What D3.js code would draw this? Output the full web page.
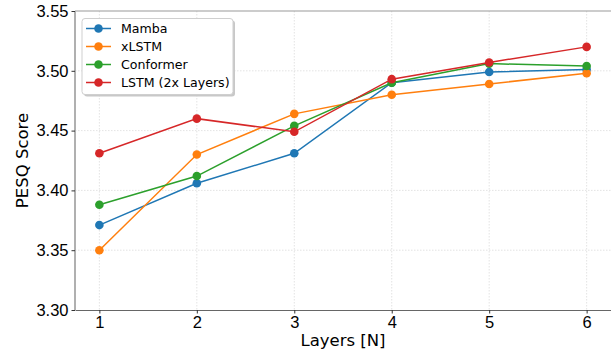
<!DOCTYPE html>
<html>
<head>
<meta charset="utf-8">
<script src="https://cdn.jsdelivr.net/npm/d3@7"></script>
<style>
  body { margin: 0; background: #fff; }
  svg { font-family: "DejaVu Sans", sans-serif; display: block; }
</style>
</head>
<body>
<div id="main"></div>
<script>
// Data
const layers = [1, 2, 3, 4, 5, 6];
const mamba = [3.371, 3.406, 3.431, 3.490, 3.499, 3.501];
const xlstm = [3.350, 3.430, 3.464, 3.480, 3.489, 3.498];
const conformer = [3.388, 3.412, 3.454, 3.490, 3.506, 3.504];
const lstm2x = [3.431, 3.460, 3.449, 3.493, 3.507, 3.520];
const seriesNames = ["Mamba", "xLSTM", "Conformer", "LSTM (2x Layers)"];
const seriesColors = ["#1f77b4", "#ff7f0e", "#2ca02c", "#d62728"];
const yTicks = [3.30, 3.35, 3.40, 3.45, 3.50, 3.55];

const width = 611, height = 349;
const plot = { left: 75, top: 11, right: 611, bottom: 310 };
const fontSize = "16.5px";

const svg = d3.select("div#main").append("svg")
  .attr("width", width)
  .attr("height", height);

// x: 1 at ~99, 6 at ~587
const x = d3.scaleLinear().domain([0.75, 6.25]).range([plot.left, plot.right]);
const y = d3.scaleLinear().domain([3.30, 3.55]).range([plot.bottom, plot.top]);

// grid
svg.append("g").selectAll("line").data(layers)
  .enter().append("line")
  .attr("x1", d => x(d)).attr("x2", d => x(d))
  .attr("y1", plot.top).attr("y2", plot.bottom)
  .attr("stroke", "#dcdcdc").attr("stroke-width", 0.8)
  .attr("stroke-dasharray", "1.5,1.5");
svg.append("g").selectAll("line").data(yTicks.slice(1, -1))
  .enter().append("line")
  .attr("x1", plot.left).attr("x2", plot.right)
  .attr("y1", d => y(d)).attr("y2", d => y(d))
  .attr("stroke", "#dcdcdc").attr("stroke-width", 0.8)
  .attr("stroke-dasharray", "1.5,1.5");

// spines
svg.append("line")
  .attr("x1", plot.left).attr("x2", plot.right)
  .attr("y1", plot.top).attr("y2", plot.top)
  .attr("stroke", "#999").attr("stroke-width", 1.2);
svg.append("line")
  .attr("x1", plot.left).attr("x2", plot.left)
  .attr("y1", plot.top).attr("y2", plot.bottom)
  .attr("stroke", "#b0b0b0").attr("stroke-width", 2);

// axes
const xAxis = svg.append("g")
  .attr("transform", "translate(0," + plot.bottom + ")")
  .call(d3.axisBottom(x).tickValues(layers).tickFormat(d3.format("d"))
    .tickSizeInner(3.5).tickSizeOuter(0).tickPadding(3));
xAxis.select(".domain").attr("stroke", "#666").attr("stroke-width", 1.2);
xAxis.selectAll(".tick line").attr("stroke", "#333");
xAxis.selectAll("text").attr("font-size", fontSize).attr("fill", "#000");

const yAxis = svg.append("g")
  .attr("transform", "translate(" + plot.left + ",0)")
  .call(d3.axisLeft(y).tickValues(yTicks).tickFormat(d3.format(".2f"))
    .tickSizeInner(3.5).tickSizeOuter(0).tickPadding(3));
yAxis.select(".domain").remove();
yAxis.selectAll(".tick line").attr("stroke", "#333");
yAxis.selectAll("text").attr("font-size", fontSize).attr("fill", "#000");

// axis titles
svg.append("text")
  .attr("x", (plot.left + plot.right) / 2)
  .attr("y", 346)
  .attr("text-anchor", "middle")
  .attr("font-size", fontSize)
  .text("Layers [N]");
svg.append("text")
  .attr("transform", "translate(28," + ((plot.top + plot.bottom) / 2) + ") rotate(-90)")
  .attr("text-anchor", "middle")
  .attr("font-size", fontSize)
  .text("PESQ Score");

// lines
const allSeries = [mamba, xlstm, conformer, lstm2x];
const line = d3.line().x((d, i) => x(layers[i])).y(d => y(d));
allSeries.forEach((vals, k) => {
  const g = svg.append("g");
  g.append("path")
    .attr("d", line(vals))
    .attr("fill", "none")
    .attr("stroke", seriesColors[k])
    .attr("stroke-width", 1.5);
  g.selectAll("circle").data(vals)
    .enter().append("circle")
    .attr("cx", (d, i) => x(layers[i]))
    .attr("cy", d => y(d))
    .attr("r", 4.3)
    .attr("fill", seriesColors[k]);
});

// legend
const lg = svg.append("g");
lg.append("rect")
  .attr("x", 84).attr("y", 20.5)
  .attr("width", 151).attr("height", 76)
  .attr("rx", 3)
  .attr("fill", "#c8c8c8");
lg.append("rect")
  .attr("x", 82).attr("y", 18.5)
  .attr("width", 151).attr("height", 76)
  .attr("rx", 3)
  .attr("fill", "#fff")
  .attr("stroke", "#cfcfcf").attr("stroke-width", 1);
seriesNames.forEach((name, k) => {
  const cy = 28.5 + k * 18;
  lg.append("line")
    .attr("x1", 86).attr("x2", 111)
    .attr("y1", cy).attr("y2", cy)
    .attr("stroke", seriesColors[k]).attr("stroke-width", 1.5);
  lg.append("circle")
    .attr("cx", 98.5).attr("cy", cy).attr("r", 4.3)
    .attr("fill", seriesColors[k]);
  lg.append("text")
    .attr("x", 121).attr("y", cy)
    .attr("dy", "0.35em")
    .attr("font-size", "12.6px")
    .text(name);
});
</script>
</body>
</html>
